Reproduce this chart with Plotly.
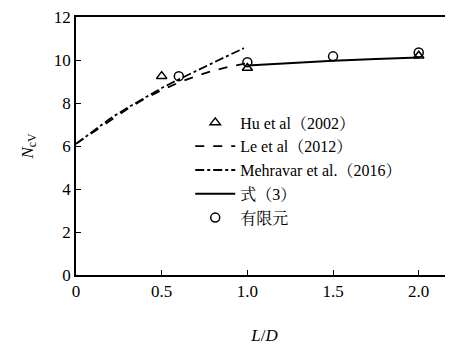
import plotly.graph_objects as go

# Data
hu_x = [0.5, 1.0, 2.0]
hu_y = [9.25, 9.63, 10.2]

le_x = [0.0, 0.1, 0.2, 0.3, 0.4, 0.5, 0.6, 0.7, 0.8, 0.9, 1.0]
le_y = [6.1, 6.65, 7.2, 7.72, 8.2, 8.6, 8.95, 9.25, 9.5, 9.7, 9.85]

meh_x = [0.0, 0.1, 0.2, 0.3, 0.4, 0.5, 0.6, 0.7, 0.8, 0.9, 0.98]
meh_y = [6.1, 6.7, 7.28, 7.78, 8.25, 8.7, 9.1, 9.5, 9.87, 10.25, 10.55]

eq_x = [1.0, 1.25, 1.5, 1.75, 2.0]
eq_y = [9.75, 9.87, 9.97, 10.05, 10.12]

fem_x = [0.6, 1.0, 1.5, 2.0]
fem_y = [9.25, 9.9, 10.17, 10.35]

x_ticks = [0, 0.5, 1.0, 1.5, 2.0]
x_tick_labels = ["0", "0.5", "1.0", "1.5", "2.0"]
y_ticks = [0, 2, 4, 6, 8, 10, 12]

FONT = "Times New Roman, Liberation Serif, Noto Serif CJK SC, Noto Sans CJK SC, serif"

fig = go.Figure()
fig.add_trace(go.Scatter(x=hu_x, y=hu_y, mode="markers", name="Hu et al（2002）",
                         marker=dict(symbol="triangle-up-open", size=9, color="black",
                                     line=dict(width=1.5, color="black"))))
fig.add_trace(go.Scatter(x=le_x, y=le_y, mode="lines", name="Le et al（2012）",
                         line=dict(color="black", width=1.8, dash="dash")))
fig.add_trace(go.Scatter(x=meh_x, y=meh_y, mode="lines", name="Mehravar et al.（2016）",
                         line=dict(color="black", width=1.8, dash="dashdot")))
fig.add_trace(go.Scatter(x=eq_x, y=eq_y, mode="lines", name="式（3）",
                         line=dict(color="black", width=2)))
fig.add_trace(go.Scatter(x=fem_x, y=fem_y, mode="markers", name="有限元",
                         marker=dict(symbol="circle-open", size=9, color="black",
                                     line=dict(width=1.5, color="black"))))

fig.update_layout(
    width=445, height=337,
    margin=dict(l=68, r=0, t=7, b=70),
    paper_bgcolor="white", plot_bgcolor="white",
    font=dict(family=FONT, size=16, color="black"),
    showlegend=True,
    legend=dict(x=0.303, y=0.657, xanchor="left", yanchor="top",
                bgcolor="rgba(0,0,0,0)", font=dict(size=16, family=FONT, color="black"),
                tracegroupgap=0, itemwidth=40),
    xaxis=dict(range=[0, 2.2], tickvals=x_ticks, ticktext=x_tick_labels,
               ticks="inside", ticklen=5, tickcolor="black",
               showline=True, linecolor="black", linewidth=1.5, mirror=True,
               showgrid=False, zeroline=False, ticklabeloverflow="allow",
               title=dict(text="<i>L</i>/<i>D</i>", standoff=30,
                          font=dict(size=17, family=FONT, color="black")),
               tickfont=dict(size=17, family=FONT, color="black")),
    yaxis=dict(range=[0, 12], tickvals=y_ticks,
               ticks="inside", ticklen=5, tickcolor="black",
               showline=True, linecolor="black", linewidth=1.5, mirror=False,
               showgrid=False, zeroline=False, ticklabeloverflow="allow",
               title=dict(text="<i>N</i><sub>cV</sub>", standoff=16,
                          font=dict(size=17, family=FONT, color="black")),
               tickfont=dict(size=17, family=FONT, color="black")),
)

fig.write_html("out.html")
